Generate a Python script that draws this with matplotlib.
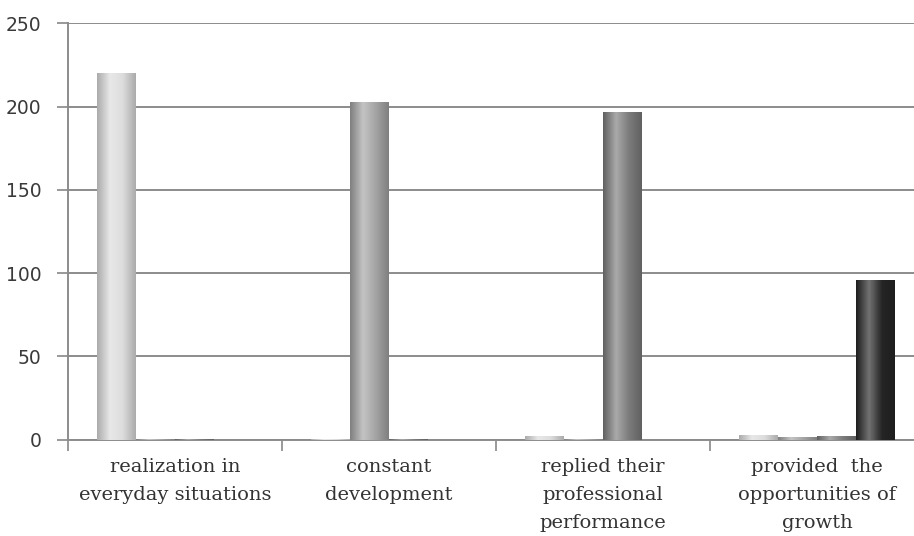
import numpy as np
import matplotlib.pyplot as plt
from matplotlib.colors import LinearSegmentedColormap

categories = ["realization in\neveryday situations", "constant\ndevelopment",
              "replied their\nprofessional\nperformance",
              "provided  the\nopportunities of\ngrowth"]
series1 = [220, 0.4, 2, 3]
series2 = [0.3, 203, 0.3, 1.5]
series3 = [0.2, 0.4, 197, 2]
series4 = [0, 0, 0, 96]
yticks = [0, 50, 100, 150, 200, 250]

colors = ["#dcdcdc", "#a4a4a4", "#7c7c7c", "#262626"]

fig = plt.figure(figsize=(9.14, 5.36), dpi=100)
ax = fig.add_axes([68/914, 1-439.5/536, 856/914, 416.2/536])

width = 1/5.5
x = np.arange(len(categories))
for i, (vals, c) in enumerate(zip([series1, series2, series3, series4], colors)):
    pos = x - 2*width + width/2 + i*width
    bars = ax.bar(pos, vals, width=width, color=c, edgecolor="none", zorder=3)
    # cylinder-like shading
    base = np.array(plt.matplotlib.colors.to_rgb(c))
    dark = base*0.78
    light = np.clip(base + (1-base)*0.35, 0, 1)
    cmap = LinearSegmentedColormap.from_list("g", [dark, light, base, dark])
    grad = np.linspace(0, 1, 64).reshape(1, -1)
    for b in bars:
        h = b.get_height()
        if h <= 0:
            continue
        im = ax.imshow(grad, cmap=cmap, aspect="auto", zorder=3.5,
                       extent=[b.get_x(), b.get_x()+b.get_width(), 0, h])
        im.set_clip_path(b)

ax.set_xlim(-0.5, 3.5)
ax.set_ylim(0, 250)
ax.set_yticks(yticks)
ax.set_yticklabels([str(v) for v in yticks], fontsize=13.5, color="#3a3a3a")
ax.set_xticks([-0.5, 0.5, 1.5, 2.5, 3.5])
ax.set_xticklabels([])
ax.set_xticks(x, minor=True)
ax.set_xticklabels(categories, minor=True, fontsize=14, family="DejaVu Serif",
                   color="#333333", linespacing=1.72)
ax.tick_params(axis="x", which="minor", length=0, pad=13)
ax.tick_params(axis="x", which="major", length=8, color="#888888", width=1.2)
ax.tick_params(axis="y", length=8, color="#888888", width=1.2, pad=11)

ax.grid(axis="y", color="#8c8c8c", linewidth=1.4, zorder=0)
for s in ["top", "right"]:
    ax.spines[s].set_visible(False)
ax.spines["left"].set_color("#8c8c8c")
ax.spines["left"].set_linewidth(1.4)
ax.spines["bottom"].set_color("#8c8c8c")
ax.spines["bottom"].set_linewidth(1.4)

fig.savefig("out.png", dpi=100)
